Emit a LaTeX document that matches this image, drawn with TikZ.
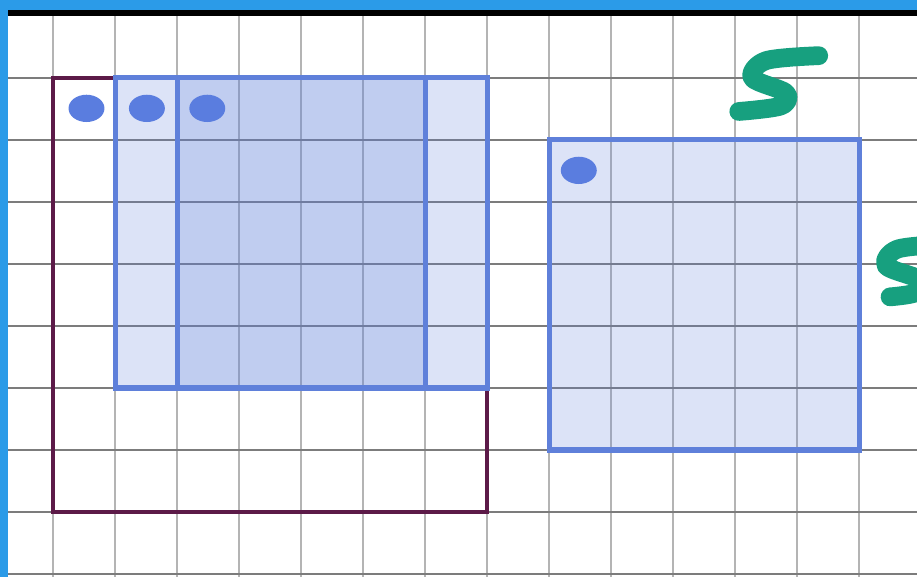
\documentclass[tikz,border=0pt]{standalone}
\usepackage{xcolor}
\usepackage{tikz}
\usetikzlibrary{positioning,shapes.geometric}
\definecolor{barblue}{HTML}{2B9BE8}
\definecolor{hgrid}{HTML}{7C7C7C}
\definecolor{vgrid}{HTML}{B4B4B4}
\definecolor{plum}{HTML}{5C1A48}
\definecolor{winblue}{HTML}{5F80DA}
\definecolor{dotblue}{HTML}{5A7DDF}
\definecolor{markgreen}{HTML}{17A07F}

\begin{document}
\begin{tikzpicture}[window/.style={draw=winblue,line width=2.3pt,fill=winblue,fill opacity=0.22},dot/.style={ellipse,fill=dotblue,minimum width=0.58cm,minimum height=0.44cm,inner sep=0pt},squiggle/.style={markgreen,line width=8.6pt,line cap=round,line join=round}]
\useasboundingbox (-0.855,-0.048) rectangle (13.935,9.258);
\begin{scope}
\clip (-0.855,-0.048) rectangle (13.935,9.258);
% grid
\foreach \x in {0,...,13} \draw[vgrid,line width=0.9pt] (\x,-0.1)--(\x,9);
\foreach \y in {0,...,8} \draw[hgrid,line width=0.9pt] (-0.9,\y)--(14,\y);
% input and sliding windows
\draw[plum,line width=1.9pt] (0,1) rectangle (7,8);
\draw[window] (1,3) rectangle (6,8);
\draw[window] (2,3) rectangle (7,8);
\draw[window] (8,2) rectangle (13,7);
\node[dot] (dotin) at (0.54,7.51) {};
\node[dot,right=0.38cm of dotin] (dotwa) {};
\node[dot,right=0.38cm of dotwa] (dotwb) {};
\node[dot] (dotout) at (8.48,6.51) {};
% hand-drawn marks
\draw[squiggle] plot[smooth,tension=0.55] coordinates {(12.35,8.36) (11.5,8.28) (11.28,8.0) (11.82,7.76) (11.74,7.55) (11.06,7.46)};
\draw[squiggle] plot[smooth,tension=0.55] coordinates {(14.4,5.32) (13.62,5.24) (13.44,4.97) (13.97,4.75) (13.92,4.54) (13.5,4.47)};
% frame bars
\fill[black] (-0.9,9.0) rectangle (14,9.1);
\fill[barblue] (-0.9,9.1) rectangle (14,9.3);
\fill[barblue] (-0.9,-0.1) rectangle (-0.726,9.3);
\end{scope}
\end{tikzpicture}
\end{document}
